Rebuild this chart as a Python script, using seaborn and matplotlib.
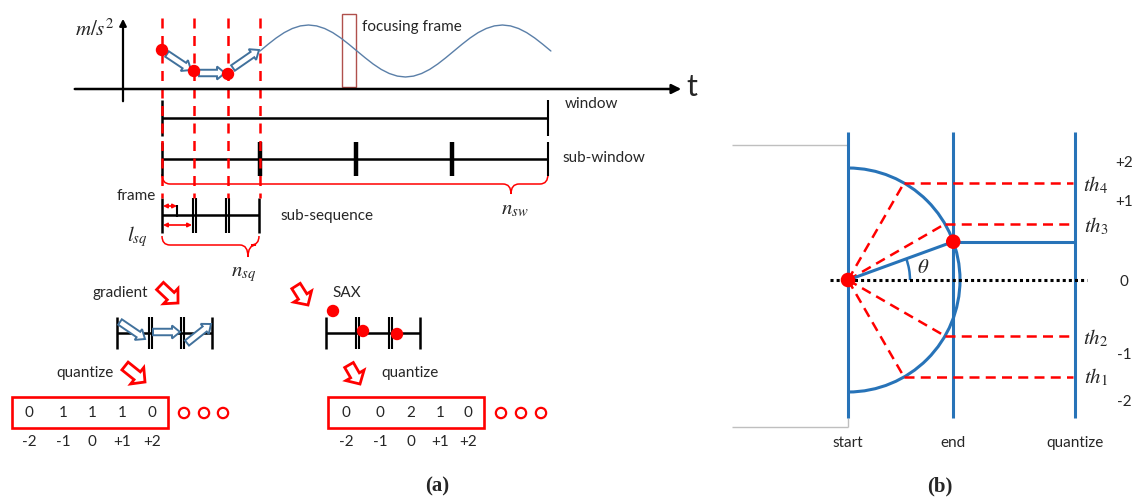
import numpy as np
import matplotlib
matplotlib.use("Agg")
import matplotlib.pyplot as plt
from matplotlib.patches import FancyArrow, Rectangle, Arc, PathPatch
from matplotlib.path import Path
import seaborn as sns

# ---------------------------------------------------------------- data
# acceleration trace drawn after the last sub-sequence boundary (pixel rows)
wave_start, wave_step = 260, 8.08
wave_acc = [51, 44.3, 38, 32.6, 28.5, 25.9, 25, 25.9, 28.5, 32.6, 38, 44.3,
            51, 57.7, 64, 69.4, 73.5, 76.1, 77, 76.1, 73.5, 69.4, 64, 57.7,
            51, 44.3, 38, 32.6, 28.5, 25.9, 25, 25.9, 28.5, 32.6, 38, 44.3, 51]

# frame boundaries and the sampled values at the first three frames
frame_bounds = [162, 194, 228, 260]
sample_x = [162, 194, 228]
sample_y = [50, 71, 74]

# sub-window boundaries
subwin_bounds = [260, 356, 452]

# SAX symbols of the three frames
sax_x = [333, 363, 397]
sax_y = [311, 331, 334]

# quantized codes
levels = ["-2", "-1", "0", "+1", "+2"]
gradient_codes = ["0", "1", "1", "1", "0"]
sax_codes = ["0", "0", "2", "1", "0"]

# panel (b): thresholds on the unit half circle (degrees) and a sample angle
threshold_angles = [-60, -30, 30, 60]
threshold_names = [r"$th_1$", r"$th_2$", r"$th_3$", r"$th_4$"]
theta_deg = 20
quant_levels = ["+2", "+1", "0", "-1", "-2"]
quant_level_y = [163, 202, 282, 355, 402]
threshold_label_y = [377, 338, 226, 185]

# ---------------------------------------------------------------- style
sns.set_theme(style="white")
plt.rcParams["font.family"] = ["Lato", "DejaVu Sans"]
plt.rcParams["mathtext.fontset"] = "stix"

RED = "#FF0000"
BLUE = "#2773B8"
STEEL = "#41719C"
WAVE = "#5A7FA8"
BLACK = "#000000"
FS = 11
MFS = 15

fig = plt.figure(figsize=(11.37, 4.99), dpi=100)
ax = fig.add_axes([0, 0, 1, 1])
ax.set_xlim(0, 1137)
ax.set_ylim(499, 0)


def hline(y, x0, x1, **kw):
    ax.plot([x0, x1], [y, y], solid_capstyle="butt", **kw)


def vline(x, y0, y1, **kw):
    ax.plot([x, x], [y0, y1], solid_capstyle="butt", **kw)


def block_arrow(p0, p1, w, hw, hl, ec, lw, fc="white"):
    ax.add_patch(FancyArrow(p0[0], p0[1], p1[0] - p0[0], p1[1] - p0[1],
                            width=w, head_width=hw, head_length=hl,
                            length_includes_head=True, facecolor=fc,
                            edgecolor=ec, lw=lw, joinstyle="miter", zorder=4))


def brace(x0, x1, ytop, ymid, xtip, ytip, color=RED, lw=1.1):
    c = 8
    verts = [(x0, ytop), (x0, ymid), (x0 + c, ymid),
             (xtip - c, ymid), (xtip, ymid), (xtip, ytip),
             (xtip, ymid), (xtip + c, ymid),
             (x1 - c, ymid), (x1, ymid), (x1, ytop)]
    codes = [Path.MOVETO, Path.CURVE3, Path.CURVE3,
             Path.LINETO, Path.CURVE3, Path.CURVE3,
             Path.CURVE3, Path.CURVE3,
             Path.LINETO, Path.CURVE3, Path.CURVE3]
    ax.add_patch(PathPatch(Path(verts, codes), fill=False, ec=color, lw=lw))


def tick_pair(x, y0, y1, gap=3, lw=1.5):
    vline(x - gap / 2, y0, y1, color=BLACK, lw=lw)
    vline(x + gap / 2, y0, y1, color=BLACK, lw=lw)


# ---------------------------------------------------------------- panel (a)
# axes of the signal plot
ax.annotate("", xy=(123, 16), xytext=(123, 104),
            arrowprops=dict(arrowstyle="-|>", lw=1.6, color=BLACK, mutation_scale=10))
ax.annotate("", xy=(684, 89), xytext=(72, 89),
            arrowprops=dict(arrowstyle="-|>", lw=1.8, color=BLACK, mutation_scale=14))
ax.text(95, 29, r"$m/s^2$", fontsize=MFS, ha="center", va="center")
ax.text(692, 87, "t", fontsize=22, ha="center", va="center")

# acceleration trace
wave_x = [wave_start + i * wave_step for i in range(len(wave_acc))]
sns.lineplot(x=wave_x, y=wave_acc, ax=ax, color=WAVE, lw=1.0, legend=False)

# focusing frame
ax.add_patch(Rectangle((342, 14), 14, 73, fill=False, ec="#B0504C", lw=1.0))
ax.text(362, 27, "focusing frame", fontsize=FS, ha="left", va="center")

# window line
hline(118, 162, 548, color=BLACK, lw=1.8)
vline(162, 100, 136, color=BLACK, lw=1.8)
vline(548, 100, 136, color=BLACK, lw=1.5)
ax.text(565, 104, "window", fontsize=FS, ha="left", va="center")

# sub-window line
hline(159, 162, 548, color=BLACK, lw=1.8)
vline(162, 142, 176, color=BLACK, lw=1.8)
for x in subwin_bounds:
    vline(x, 142, 176, color=BLACK, lw=3.2)
vline(548, 142, 176, color=BLACK, lw=1.5)
ax.text(562, 158, "sub-window", fontsize=FS, ha="left", va="center")
brace(162, 548, 174, 184, 511, 194)
ax.text(515, 209, r"$n_{sw}$", fontsize=MFS, ha="center", va="center")

# sub-sequence line
hline(215, 162, 259, color=BLACK, lw=1.8)
vline(162, 198, 233, color=BLACK, lw=1.8)
tick_pair(194, 198, 233)
tick_pair(227, 198, 233)
vline(259, 198, 233, color=BLACK, lw=1.8)
vline(177, 205, 217, color=BLACK, lw=1.5)
ax.annotate("", xy=(177, 206), xytext=(163, 206),
            arrowprops=dict(arrowstyle="<|-|>", lw=1.2, color=RED, mutation_scale=6,
                            shrinkA=0, shrinkB=0))
ax.annotate("", xy=(192, 225), xytext=(163, 225),
            arrowprops=dict(arrowstyle="<|-|>", lw=1.2, color=RED, mutation_scale=6,
                            shrinkA=0, shrinkB=0))
ax.text(156, 196, "frame", fontsize=FS, ha="right", va="center")
ax.text(137, 237, r"$l_{sq}$", fontsize=MFS, ha="center", va="center")
ax.text(280, 216, "sub-sequence", fontsize=FS, ha="left", va="center")
brace(162, 259, 236, 245, 248, 257)
ax.text(244, 274, r"$n_{sq}$", fontsize=MFS, ha="center", va="center")

# frame boundaries
for x in frame_bounds:
    vline(x, 18, 198, color=RED, lw=1.8, linestyle=(0, (4, 3)))

# sampled values and their gradients
sns.scatterplot(x=sample_x, y=sample_y, ax=ax, s=80, color=RED,
                edgecolor="none", zorder=5, legend=False)
block_arrow((167, 54), (191, 70), 6.5, 13, 8, STEEL, 1.4)
block_arrow((199, 73), (225, 73), 6.5, 13, 8, STEEL, 1.4)
block_arrow((233, 68), (259, 50), 6.5, 13, 8, STEEL, 1.4)

# gradient branch
ax.text(120, 293, "gradient", fontsize=FS, ha="center", va="center")
block_arrow((160, 286), (178, 303), 10, 21, 10, RED, 2.0)
hline(333, 117, 212, color=BLACK, lw=1.8)
vline(117, 317, 349, color=BLACK, lw=1.8)
tick_pair(150, 317, 349)
tick_pair(182, 317, 349)
vline(212, 317, 349, color=BLACK, lw=1.8)
block_arrow((120, 322), (145, 339), 6.5, 13, 8, STEEL, 1.4)
block_arrow((153, 332), (180, 332), 6.5, 13, 8, STEEL, 1.4)
block_arrow((187, 343), (211, 324), 6.5, 13, 8, STEEL, 1.4)

# SAX branch
ax.text(332, 293, "SAX", fontsize=FS, ha="left", va="center")
block_arrow((296, 286), (308, 305), 10, 21, 10, RED, 2.0)
hline(333, 326, 420, color=BLACK, lw=1.8)
vline(326, 317, 349, color=BLACK, lw=1.8)
tick_pair(357, 317, 349)
tick_pair(390, 317, 349)
vline(420, 317, 349, color=BLACK, lw=1.8)
sns.scatterplot(x=sax_x, y=sax_y, ax=ax, s=80, color=RED,
                edgecolor="none", zorder=5, legend=False)

# quantize steps
ax.text(85, 373, "quantize", fontsize=FS, ha="center", va="center")
block_arrow((125, 366), (145, 382), 10, 21, 10, RED, 2.0)
ax.text(410, 373, "quantize", fontsize=FS, ha="center", va="center")
block_arrow((349, 365), (360, 384), 10, 21, 10, RED, 2.0)

# code boxes
for bx0, bx1, codes, cols, circ in [
        (12, 168, gradient_codes, [29, 63, 92, 122, 152], [184, 204, 223]),
        (328, 484, sax_codes, [346, 380, 411, 440, 468], [501, 521, 541])]:
    ax.add_patch(Rectangle((bx0, 397), bx1 - bx0, 31, fill=False, ec=RED, lw=1.9))
    for x, c, lv in zip(cols, codes, levels):
        ax.text(x, 413, c, fontsize=FS, ha="center", va="center")
        ax.text(x, 442, lv, fontsize=FS, ha="center", va="center")
    sns.scatterplot(x=circ, y=[413] * 3, ax=ax, s=55, facecolor="none",
                    edgecolor=RED, linewidth=1.6, zorder=5, legend=False)

ax.text(437, 486, "(a)", fontsize=15, fontweight="bold",
        family=["Liberation Serif", "DejaVu Serif"], ha="center", va="center")

# ---------------------------------------------------------------- panel (b)
cx, cy, r = 848, 280, 112

hline(145, 732, 848, color="#BFBFBF", lw=1.0)
hline(427, 732, 848, color="#BFBFBF", lw=1.0)
vline(848, 418, 427, color="#BFBFBF", lw=1.0)

for x in [848, 953, 1075]:
    vline(x, 132, 418, color=BLUE, lw=2.2)

ax.add_patch(Arc((cx, cy), 2 * r, 2 * r, theta1=-90, theta2=90, color=BLUE, lw=2.2))

hline(cy, 830, 1087, color=BLACK, lw=2.2, linestyle=(0, (1, 1)))

for a in threshold_angles:
    px = cx + r * np.cos(np.radians(a))
    py = cy - r * np.sin(np.radians(a))
    ax.plot([cx, px], [cy, py], color=RED, lw=1.8, linestyle=(0, (4, 2.5)))
    ax.plot([px, 1073], [py, py], color=RED, lw=1.8, linestyle=(0, (4, 2.5)))

for name, y in zip(threshold_names, threshold_label_y):
    ax.text(1096, y, name, fontsize=MFS, ha="center", va="center")

px = cx + r * np.cos(np.radians(theta_deg))
py = cy - r * np.sin(np.radians(theta_deg))
ax.plot([cx, px], [cy, py], color=BLUE, lw=2.2)
hline(py, px, 1075, color=BLUE, lw=2.2)
ax.add_patch(Arc((cx, cy), 124, 124, theta1=-theta_deg, theta2=0, color=BLUE, lw=1.8))
ax.text(923, 267, r"$\theta$", fontsize=MFS, ha="center", va="center")

sns.scatterplot(x=[cx, px], y=[cy, py], ax=ax, s=110, color=RED,
                edgecolor="none", zorder=6, legend=False)

for lab, y in zip(quant_levels, quant_level_y):
    ax.text(1124, y, lab, fontsize=FS, ha="center", va="center")

for lab, x in zip(["start", "end", "quantize"], [848, 953, 1075]):
    ax.text(x, 443, lab, fontsize=FS, ha="center", va="center")

ax.text(940, 486, "(b)", fontsize=15, fontweight="bold",
        family=["Liberation Serif", "DejaVu Serif"], ha="center", va="center")

ax.axis("off")
fig.savefig("out.png", dpi=100)
